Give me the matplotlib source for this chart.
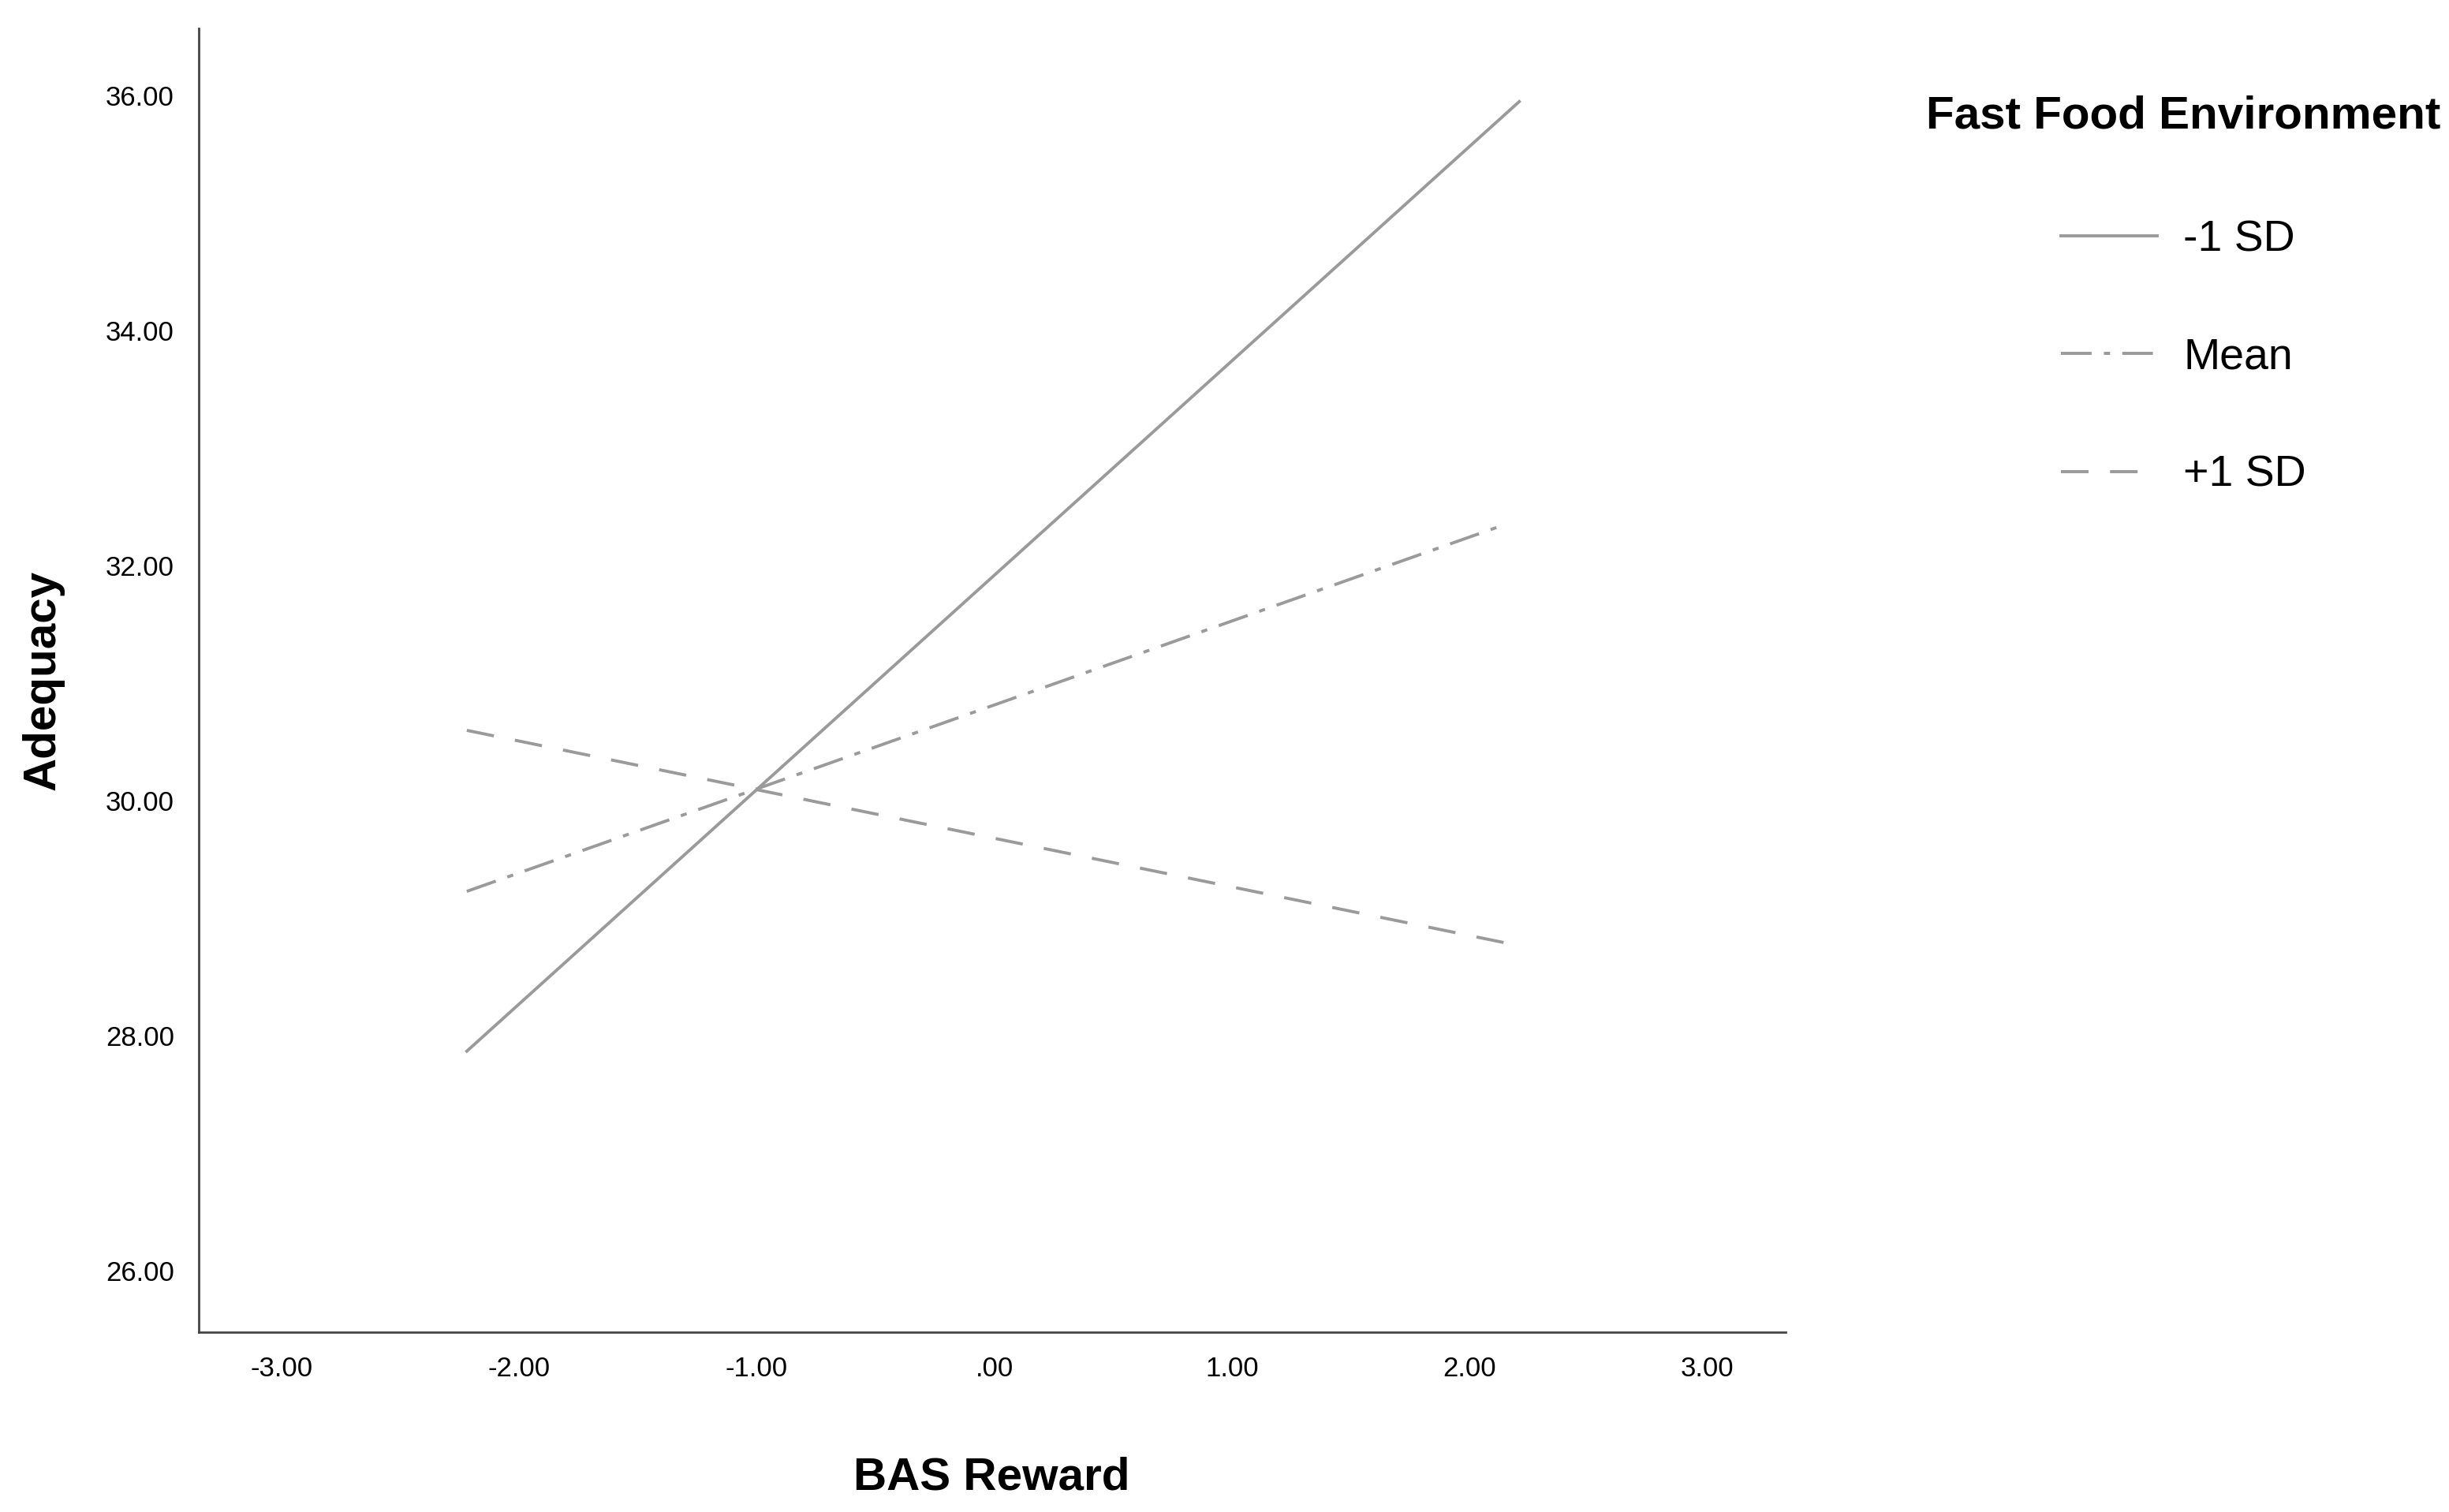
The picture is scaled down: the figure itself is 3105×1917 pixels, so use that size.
import matplotlib.pyplot as plt

plt.rcParams['font.family'] = ['Liberation Sans', 'DejaVu Sans']

# simple slopes of Adequacy on BAS Reward at three levels of fast food environment
series_labels = ["-1 SD", "Mean", "+1 SD"]
x_start = [-2.22, -2.22, -2.22]
x_end = [2.21, 2.12, 2.18]
y_start = [27.87, 29.23, 30.60]
y_end = [35.95, 32.33, 28.78]
line_styles = ["-", (0, (10, 4, 2, 4)), (0, (9, 7))]

x_ticks = [-3, -2, -1, 0, 1, 2, 3]
x_tick_labels = ["-3.00", "-2.00", "-1.00", ".00", "1.00", "2.00", "3.00"]
y_ticks = [26, 28, 30, 32, 34, 36]
y_tick_labels = ["26.00", "28.00", "30.00", "32.00", "34.00", "36.00"]

fig = plt.figure(figsize=(31.05, 19.17), dpi=100)
ax = fig.add_axes([0.081, 0.119, 0.648, 0.862])

for lab, x0, x1, y0, y1, ls in zip(series_labels, x_start, x_end, y_start, y_end, line_styles):
    ax.plot([x0, x1], [y0, y1], color="#9a9a9a", lw=2.8, linestyle=ls, label=lab)

ax.set_xlim(-3.35, 3.33)
ax.set_ylim(25.48, 36.57)
ax.set_xticks(x_ticks)
ax.set_xticklabels(x_tick_labels)
ax.set_yticks(y_ticks)
ax.set_yticklabels(y_tick_labels)
ax.tick_params(length=0, labelsize=25, pad=22)
for s in ["top", "right"]:
    ax.spines[s].set_visible(False)
for s in ["left", "bottom"]:
    ax.spines[s].set_color("#444444")
    ax.spines[s].set_linewidth(2)

ax.set_xlabel("BAS Reward", fontsize=42, fontweight="bold", labelpad=68)
ax.set_ylabel("Adequacy", fontsize=42, fontweight="bold", labelpad=38)

leg = ax.legend(loc="upper left", bbox_to_anchor=(1.075, 0.966), frameon=False,
                title="Fast Food Environment", fontsize=40, labelspacing=1.75,
                handlelength=2.2, handletextpad=0.6, borderpad=0)
leg.get_title().set_fontsize(42)
leg.get_title().set_fontweight("bold")
leg._legend_box.sep = 75

fig.savefig("out.png", dpi=100)
